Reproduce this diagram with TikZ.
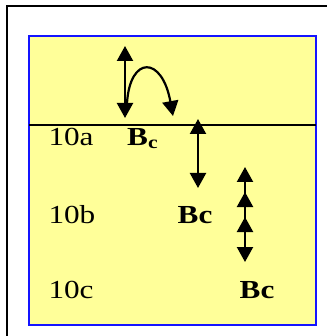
\documentclass[tikz,border=0pt]{standalone}
\usepackage{fontspec}
\setmainfont{Liberation Serif}
\newfontfamily\lblfont[FakeStretch=1.2]{Liberation Serif}
\usetikzlibrary{arrows.meta}
\definecolor{paleyellow}{RGB}{255,255,153}
\definecolor{boxblue}{RGB}{20,20,255}
\tikzset{
  arr/.style={line width=2.2pt, {Triangle[length=15pt,width=16pt]}-{Triangle[length=15pt,width=16pt]}},
  onearr/.style={line width=2.2pt, -{Triangle[length=15pt,width=16pt]}},
  lbl/.style={anchor=base west, inner sep=0pt, font=\lblfont\fontsize{26}{26}\selectfont},
  bold/.style={lbl, font=\lblfont\bfseries\fontsize{26}{26}\selectfont}
}
\begin{document}
\begin{tikzpicture}[x=1pt,y=-1pt]
\useasboundingbox (0,0) rectangle (333,336);
\fill[white] (0,0) rectangle (333,336);
% outer frame (only left and top edges fall inside the picture)
\coordinate (fb) at (7,336);
\coordinate (fc) at (7,6);
\coordinate (fr) at (326,6);
\draw[line width=2.3pt, line cap=rect] (fb) -- (fc) -- (fr);
% inner box
\draw[boxblue, line width=2pt, fill=paleyellow] (29,36) rectangle (316,324.5);
% divider line
\coordinate (hl) at (29,125);
\coordinate (hr) at (316,125);
\draw[line width=1.3pt] (hl) -- (hr);
% labels
\node[lbl] (t10a) at (48.3,146) {10a};
\node[lbl] (t10b) at (48.3,223.3) {10b};
\node[lbl] (t10c) at (48.3,298.3) {10c};
\node[bold] (bca) at (127,146) {B\raisebox{-3pt}{\fontsize{18}{18}\selectfont c}};
\node[bold] (bcb) at (177.5,223.3) {Bc};
\node[bold] (bcc) at (239.5,298.3) {Bc};
% arrow 1
\coordinate (a1t) at (125,46);
\coordinate (a1b) at (125,118);
\draw[arr] (a1t) -- (a1b);
% curved arrow
\coordinate (cs) at (127,103);
\coordinate (ce) at (173,116);
\draw[onearr] (cs) .. controls (130,55.5) and (162,55.5) .. (ce);
% arrow 2
\coordinate (a2t) at (198,119);
\coordinate (a2b) at (198,188);
\draw[arr] (a2t) -- (a2b);
% arrow 3 with extra heads
\coordinate (a3t) at (245,167);
\coordinate (a3b) at (245,262);
\coordinate (m1t) at (245,192);
\coordinate (m1b) at (245,212);
\coordinate (m2t) at (245,217);
\coordinate (m2b) at (245,237);
\draw[arr] (a3t) -- (a3b);
\draw[onearr] (m1b) -- (m1t);
\draw[onearr] (m2b) -- (m2t);
\end{tikzpicture}
\end{document}
